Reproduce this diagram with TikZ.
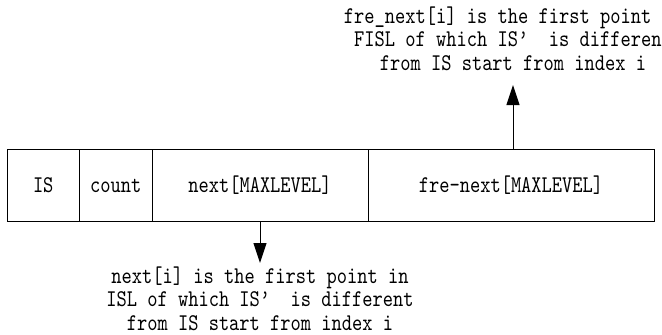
\documentclass[tikz,border=0pt]{standalone}
\usepackage{fontspec}
\newfontfamily\diagmono[FakeStretch=0.813]{lmmono10-regular.otf}
\usetikzlibrary{arrows.meta}
\begin{document}
\begin{tikzpicture}[x=1pt,y=-1pt,
  field/.style={draw,line width=1pt,minimum height=72.5pt,inner sep=0pt,
    font=\diagmono\fontsize{24}{24}\selectfont,text height=14.7pt,text depth=0pt},
  note/.style={font=\diagmono\fontsize{24}{23.5}\selectfont,align=center,inner sep=0pt},
  ptr/.style={line width=1pt,-{Triangle[length=20pt,width=13pt]}}]
\useasboundingbox (0,0) rectangle (662,335);
\clip (0,0) rectangle (662,335);
\fill[white] (0,0) rectangle (662,335);
\node[field,minimum width=72.5pt] (is) at (43.25,185.25) {IS};
\node[field,minimum width=72.5pt] (count) at (115.75,185.25) {count};
\node[field,minimum width=216pt] (nxt) at (260,185.25) {next[MAXLEVEL]};
\node[field,minimum width=286pt] (frenxt) at (511,185.25) {fre-next[MAXLEVEL]};
\node[note,anchor=base] (botnote) at (260,330) {next[i] is the first point in\\ISL of which IS’~~is different\\from IS start from index i};
\node[note,anchor=base] (topnote) at (513,70) {fre\_next[i] is the first point in\\FISL of which IS’~~is different\\from IS start from index i};
\coordinate (tipB) at (260,263);
\coordinate (tipT) at (513,85);
\draw[ptr] (nxt.south) -- (tipB);
\draw[ptr] (frenxt.north -| tipT) -- (tipT);
\end{tikzpicture}
\end{document}
